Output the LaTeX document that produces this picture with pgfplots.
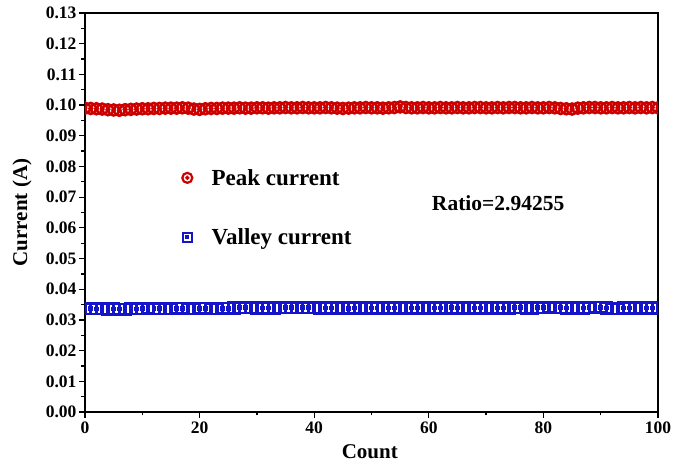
\documentclass[border=0pt]{standalone}
\usepackage{pgfplots}
\pgfplotsset{compat=1.18}
\usepackage{fontspec}
\setmainfont{Liberation Serif}
\definecolor{pkred}{RGB}{205,0,0}
\definecolor{vlblue}{RGB}{20,20,200}
\pgfdeclareplotmark{dotcircle}{%
  \pgfpathcircle{\pgfpointorigin}{\pgfplotmarksize}\pgfusepathqstroke
  \pgfpathcircle{\pgfpointorigin}{0.18\pgfplotmarksize}\pgfusepathqfillstroke}
\pgfdeclareplotmark{dotsquare}{%
  \pgfpathrectangle{\pgfpoint{-\pgfplotmarksize}{-\pgfplotmarksize}}{\pgfpoint{2\pgfplotmarksize}{2\pgfplotmarksize}}\pgfusepathqstroke
  \pgfpathrectangle{\pgfpoint{-0.18\pgfplotmarksize}{-0.18\pgfplotmarksize}}{\pgfpoint{0.36\pgfplotmarksize}{0.36\pgfplotmarksize}}\pgfusepathqfillstroke}
\pgfplotstableread{
x y
0 0.0990
1 0.0989
2 0.0988
3 0.0987
4 0.0985
5 0.0984
6 0.0983
7 0.0985
8 0.0986
9 0.0987
10 0.0988
11 0.0988
12 0.0989
13 0.0989
14 0.0990
15 0.0990
16 0.0990
17 0.0991
18 0.0990
19 0.0987
20 0.0986
21 0.0988
22 0.0989
23 0.0989
24 0.0990
25 0.0990
26 0.0990
27 0.0991
28 0.0990
29 0.0990
30 0.0991
31 0.0991
32 0.0990
33 0.0991
34 0.0991
35 0.0992
36 0.0991
37 0.0991
38 0.0992
39 0.0991
40 0.0991
41 0.0991
42 0.0992
43 0.0991
44 0.0990
45 0.0989
46 0.0990
47 0.0991
48 0.0991
49 0.0992
50 0.0991
51 0.0991
52 0.0990
53 0.0991
54 0.0992
55 0.0994
56 0.0992
57 0.0991
58 0.0991
59 0.0992
60 0.0991
61 0.0991
62 0.0992
63 0.0991
64 0.0991
65 0.0992
66 0.0991
67 0.0991
68 0.0992
69 0.0992
70 0.0991
71 0.0991
72 0.0992
73 0.0991
74 0.0992
75 0.0992
76 0.0991
77 0.0991
78 0.0992
79 0.0991
80 0.0991
81 0.0992
82 0.0991
83 0.0989
84 0.0988
85 0.0987
86 0.0990
87 0.0991
88 0.0992
89 0.0992
90 0.0991
91 0.0991
92 0.0992
93 0.0991
94 0.0991
95 0.0992
96 0.0991
97 0.0992
98 0.0991
99 0.0992
100 0.0991
}\peak
\pgfplotstableread{
x y
0 0.0337
1 0.0337
2 0.0336
3 0.0336
4 0.0335
5 0.0336
6 0.0335
7 0.0335
8 0.0336
9 0.0336
10 0.0337
11 0.0338
12 0.0337
13 0.0337
14 0.0336
15 0.0337
16 0.0338
17 0.0338
18 0.0337
19 0.0337
20 0.0338
21 0.0338
22 0.0337
23 0.0337
24 0.0338
25 0.0338
26 0.0339
27 0.0340
28 0.0340
29 0.0340
30 0.0339
31 0.0339
32 0.0339
33 0.0339
34 0.0340
35 0.0340
36 0.0340
37 0.0340
38 0.0340
39 0.0340
40 0.0340
41 0.0339
42 0.0339
43 0.0339
44 0.0339
45 0.0339
46 0.0338
47 0.0339
48 0.0339
49 0.0339
50 0.0339
51 0.0339
52 0.0339
53 0.0339
54 0.0339
55 0.0339
56 0.0339
57 0.0339
58 0.0339
59 0.0339
60 0.0339
61 0.0339
62 0.0339
63 0.0339
64 0.0340
65 0.0339
66 0.0339
67 0.0339
68 0.0339
69 0.0339
70 0.0339
71 0.0339
72 0.0339
73 0.0339
74 0.0339
75 0.0340
76 0.0340
77 0.0339
78 0.0339
79 0.0340
80 0.0340
81 0.0341
82 0.0340
83 0.0340
84 0.0339
85 0.0339
86 0.0339
87 0.0339
88 0.0340
89 0.0341
90 0.0341
91 0.0339
92 0.0336
93 0.0337
94 0.0339
95 0.0339
96 0.0339
97 0.0339
98 0.0339
99 0.0339
100 0.0339
}\valley
\begin{document}
\begin{tikzpicture}
\begin{axis}[
  width=573pt, height=399pt, scale only axis,
  xmin=0, xmax=100, ymin=0, ymax=0.13,
  xtick={0,20,...,100}, minor x tick num=1,
  ytick={0,0.01,...,0.13}, minor y tick num=1,
  tick align=outside, major tick length=6pt, minor tick length=3.5pt,
  xtick pos=bottom, ytick pos=left,
  axis line style={line width=1.8pt},
  every tick/.style={line width=1.3pt, black},
  clip marker paths=true,
  /pgf/number format/assume math mode=true,
  yticklabel style={/pgf/number format/fixed, /pgf/number format/fixed zerofill, /pgf/number format/precision=2, font=\fontsize{17.5}{19}\selectfont\bfseries, xshift=1pt},
  xticklabel style={font=\fontsize{17.5}{19}\selectfont\bfseries},
  scaled y ticks=false,
  xlabel={Count}, ylabel={Current (A)},
  label style={font=\fontsize{21}{23}\selectfont\bfseries},
  xlabel style={at={(axis description cs:0.497,-0.1)}, anchor=center},
  ylabel style={at={(axis description cs:-0.11,0.5)}, anchor=center},
  legend style={at={(axis cs:15.85,0.0805)}, anchor=north west, draw=none, fill=none,
    font=\fontsize{23}{25}\selectfont\bfseries, row sep=38pt},
  legend cell align=left,
]
\addplot[only marks, mark=dotcircle, mark size=5.5pt, line width=2.6pt, color=pkred, mark options={fill=pkred},
  legend image code/.code={\draw[mark=dotcircle, mark size=5pt, line width=2.2pt, mark options={fill=pkred}] plot coordinates {(0pt,0pt)}; \path (-7pt,0pt) (21pt,0pt);}] table {\peak};
\addlegendentry{Peak current}
\addplot[only marks, mark=dotsquare, mark size=5.3pt, line width=2.6pt, color=vlblue, mark options={fill=vlblue},
  legend image code/.code={\draw[mark=dotsquare, mark size=4.6pt, line width=2.2pt, mark options={fill=vlblue}] plot coordinates {(0pt,0pt)}; \path (-7pt,0pt) (21pt,0pt);}] table {\valley};
\addlegendentry{Valley current}
\node[font=\fontsize{21.5}{23}\selectfont\bfseries] at (axis cs:72.1,0.0681) {Ratio=2.94255};
\end{axis}
\pgfresetboundingbox
\path[use as bounding box] (current axis.south west) ++(-85pt,-54pt) rectangle ++(673pt,466pt);
\end{tikzpicture}
\end{document}
